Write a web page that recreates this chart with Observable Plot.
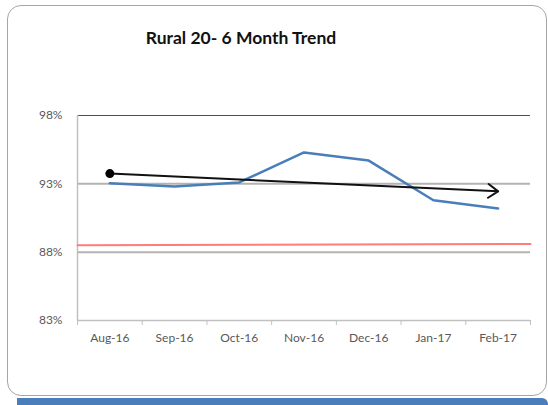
<!DOCTYPE html>
<html>
<head>
<meta charset="utf-8">
<script src="https://cdn.jsdelivr.net/npm/d3@7"></script>
<script src="https://cdn.jsdelivr.net/npm/@observablehq/plot@0.6"></script>
<style>
  html, body { margin: 0; padding: 0; background: #fff; }
  #wrap { position: relative; width: 548px; height: 405px; overflow: hidden; background: #fff; }
  #shadow { position: absolute; left: 17px; top: 398px; width: 531px; height: 7px; background: #4a7ebb; border-top-right-radius: 6px; }
  #frame { position: absolute; box-sizing: border-box; left: 7px; top: 5px; width: 540px; height: 391px;
           border: 1.5px solid #a6a6a6; border-radius: 14px; background: #fff; }
  #title { position: absolute; left: 0; width: 482px; top: 27px; text-align: center;
           font-family: Lato, "Open Sans", sans-serif; font-weight: bold; font-size: 17.5px; color: #111; }
  #chart { position: absolute; left: 0; top: 0; }
</style>
</head>
<body>
<div id="wrap">
  <div id="shadow"></div>
  <div id="frame"></div>
  <div id="title">Rural 20- 6 Month Trend</div>
  <div id="chart"></div>
</div>
<script>
const months = ["Aug-16", "Sep-16", "Oct-16", "Nov-16", "Dec-16", "Jan-17", "Feb-17"];
const rate = [93.05, 92.8, 93.1, 95.3, 94.7, 91.8, 91.2];
const trendY = [93.75, 92.45];
const targetY = [88.5, 88.6];
const yTicks = [83, 88, 93, 98];

const idx = months.map((_, i) => i);
const bounds = d3.range(-0.5, months.length, 1);
const series = idx.map(i => ({i, v: rate[i]}));
const target = [{x: -0.5, y: targetY[0]}, {x: months.length - 0.5, y: targetY[1]}];
const trend = [{x1: 0, y1: trendY[0], x2: months.length - 1, y2: trendY[1]}];

const chart = Plot.plot({
  width: 548,
  height: 405,
  marginLeft: 77,
  marginRight: 18,
  marginTop: 115,
  marginBottom: 85,
  style: {fontFamily: "Lato, 'Open Sans', sans-serif", fontSize: "12px", color: "#595959", background: "transparent"},
  x: {domain: [-0.5, months.length - 0.5], axis: null},
  y: {domain: [83, 98], axis: null},
  marks: [
    Plot.ruleY([98], {stroke: "#505050", strokeWidth: 1}),
    Plot.ruleY([88, 93], {stroke: "#b3b3b3", strokeWidth: 2}),
    Plot.ruleY([83], {stroke: "#c0c0c0", strokeWidth: 1.5}),
    Plot.ruleX([-0.5], {stroke: "#c0c0c0", strokeWidth: 1.5}),
    Plot.axisX(bounds, {tickSize: 5, tickFormat: () => "", stroke: "#c0c0c0", label: null}),
    Plot.axisX(idx, {tickSize: 0, tickPadding: 13, tickFormat: i => months[i], fill: "#595959", label: null}),
    Plot.axisY(yTicks, {tickSize: 0, tickPadding: 15, tickFormat: d => d + "%", fill: "#595959", label: null}),
    Plot.line(target, {x: "x", y: "y", stroke: "#ff7c7c", strokeWidth: 2}),
    Plot.line(series, {x: "i", y: "v", stroke: "#4a7ebb", strokeWidth: 2.5}),
    Plot.arrow(trend, {x1: "x1", y1: "y1", x2: "x2", y2: "y2", stroke: "#111", strokeWidth: 2, headLength: 9, headAngle: 70}),
    Plot.dot(trend, {x: "x1", y: "y1", r: 4.5, fill: "#000"})
  ]
});
document.getElementById("chart").appendChild(chart);
</script>
</body>
</html>
